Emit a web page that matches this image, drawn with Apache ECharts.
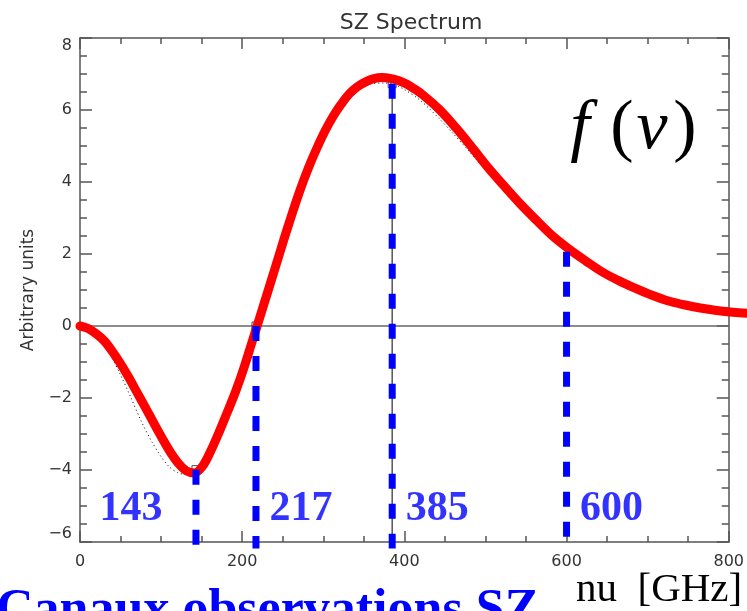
<!DOCTYPE html>
<html>
<head>
<meta charset="utf-8">
<script src="https://cdn.jsdelivr.net/npm/echarts@6/dist/echarts.min.js"></script>
<style>html,body{margin:0;padding:0;background:#fff;}#c{width:747px;height:611px;}</style>
</head>
<body>
<div id="c"></div>
<script>
// Red (hand-drawn) SZ curve
const redFreq = [0,10,20,30,40,50,60,70,80,90,100,110,120,130,140,150,160,170,180,190,200,210,220,230,240,250,260,270,280,290,300,310,320,330,340,350,360,370,380,390,400,410,420,440,460,480,500,520,540,560,580,600,620,640,660,680,700,720,740,760,780,800,820];
const redVals = [0,-0.07,-0.22,-0.42,-0.72,-1.06,-1.44,-1.85,-2.26,-2.68,-3.09,-3.48,-3.80,-4.02,-4.08,-3.90,-3.48,-2.97,-2.42,-1.86,-1.22,-0.50,0.22,0.95,1.68,2.42,3.13,3.80,4.40,4.93,5.41,5.82,6.16,6.45,6.65,6.78,6.87,6.90,6.88,6.82,6.72,6.58,6.42,6.02,5.52,4.97,4.40,3.88,3.38,2.92,2.48,2.12,1.80,1.50,1.26,1.05,0.86,0.70,0.59,0.50,0.43,0.38,0.35];
// Thin dotted curve
const dotFreq = [0,10,20,35,50,62,75,88,100,110,120,130,143,150,160,170,182,190,200,210,217,230,242,255,268,280,290,303,315,330,345,360,375,385,400,420,440,460,480,502,520,540,560,576,600,640,680,720,760,800];
const dotVals = [0,-0.06,-0.24,-0.71,-1.36,-1.95,-2.62,-3.19,-3.63,-3.91,-4.07,-4.12,-3.99,-3.83,-3.51,-3.08,-2.45,-1.94,-1.27,-0.55,-0.03,0.94,1.82,2.76,3.65,4.34,4.88,5.47,5.92,6.35,6.62,6.73,6.75,6.73,6.57,6.26,5.83,5.35,4.85,4.28,3.82,3.34,2.89,2.56,2.11,1.49,1.03,0.70,0.46,0.30];
// Channels
const channels = [143, 217, 385, 600];
const channelTops = [-3.99, 0, 6.73, 2.06];
const channelLabels = ['143', '217', '385', '600'];
const squareFreq = [143, 217, 385];
const squareVals = [-3.99, 0, 6.73];
const labelLevel = -5.1;
const lineBottom = -6.18;
// Axes
const xTicks = [0, 200, 400, 600, 800];
const yTicks = [-6, -4, -2, 0, 2, 4, 6, 8];

const axisColor = '#555';
const chart = echarts.init(document.getElementById('c'), null, {renderer: 'canvas'});

function zip(a, b) { return a.map((v, i) => [v, b[i]]); }

// grid geometry
const G = {left: 80, right: 14, top: 38, bottom: 69};
const W = 747;
const plotW = W - G.left - G.right;
// hidden wider grid so the red curve may run past the right frame (same scale)
const extMax = xTicks[xTicks.length-1] * (W - G.left) / plotW;

const series = [];
series.push({ type: 'line', data: [[xTicks[0], 0], [xTicks[xTicks.length-1], 0]], showSymbol: false, silent: true,
  lineStyle: {color: '#666', width: 1.5}, z: 1 });
series.push({ type: 'line', data: [[385, 6.73], [385, -6]], showSymbol: false, silent: true,
  lineStyle: {color: '#555', width: 1.5}, z: 2 });
series.push({ type: 'line', data: zip(dotFreq, dotVals), smooth: 0.3, showSymbol: false, silent: true,
  lineStyle: {color: '#000', width: 1, type: [1, 3]}, z: 3 });
series.push({ type: 'scatter', data: zip(squareFreq, squareVals), symbol: 'rect', symbolSize: 8, silent: true,
  itemStyle: {color: 'rgba(0,0,0,0)', borderColor: '#222', borderWidth: 1}, z: 4 });
series.push({ type: 'line', xAxisIndex: 2, yAxisIndex: 2, data: zip(redFreq, redVals), smooth: 0.35, showSymbol: false, clip: false, silent: true,
  lineStyle: {color: '#ff0000', width: 9, cap: 'round', join: 'round'}, z: 5 });
channels.forEach((c, i) => {
  series.push({ type: 'line', data: [[c, channelTops[i]], [c, lineBottom]], showSymbol: false, clip: false, silent: true,
    lineStyle: {color: '#0000ff', width: 7, type: [15, 15], cap: 'butt'}, z: 6 });
});
series.push({ type: 'scatter', symbolSize: 0, silent: true, z: 7,
  data: channels.map((c, i) => ({ value: [c, labelLevel],
    label: { show: true, formatter: channelLabels[i], position: 'inside', offset: [i === 0 ? -65 : 45, 0],
      fontFamily: 'Liberation Serif', fontWeight: 'bold', fontSize: 42, color: '#0000ff' } })) });

const yFmt = v => v < 0 ? '\u2212' + Math.abs(v) : String(v);

const tickCommon = {
  axisLine: {onZero: false, lineStyle: {color: axisColor, width: 1.5}},
  splitLine: {show: false}
};

const option = {
  animation: false,
  backgroundColor: '#fff',
  title: { text: 'SZ Spectrum', left: 406, top: 7, textAlign: 'center',
    textStyle: {fontFamily: 'DejaVu Sans', fontWeight: 'normal', fontSize: 22, color: '#333'} },
  grid: [
    { left: G.left, right: G.right, top: G.top, bottom: G.bottom, containLabel: false },
    { left: G.left, right: 0, top: G.top, bottom: G.bottom, containLabel: false }
  ],
  xAxis: [
    Object.assign({ type: 'value', gridIndex: 0, position: 'bottom', min: xTicks[0], max: xTicks[xTicks.length-1], interval: 200,
      axisTick: {inside: true, length: 11, lineStyle: {color: axisColor, width: 1.5}},
      minorTick: {show: true, splitNumber: 4, length: 6, lineStyle: {color: axisColor, width: 1.5}},
      axisLabel: {fontFamily: 'DejaVu Sans', fontSize: 16, color: '#333', margin: 12} }, tickCommon),
    Object.assign({ type: 'value', gridIndex: 0, position: 'top', min: xTicks[0], max: xTicks[xTicks.length-1], interval: 200,
      axisTick: {inside: true, length: 11, lineStyle: {color: axisColor, width: 1.5}},
      minorTick: {show: true, splitNumber: 4, length: 6, lineStyle: {color: axisColor, width: 1.5}},
      axisLabel: {show: false} }, tickCommon),
    { type: 'value', gridIndex: 1, show: false, min: xTicks[0], max: extMax }
  ],
  yAxis: [
    Object.assign({ type: 'value', gridIndex: 0, position: 'left', min: yTicks[0], max: yTicks[yTicks.length-1], interval: 2,
      name: 'Arbitrary units', nameLocation: 'middle', nameGap: 43, nameRotate: 90,
      nameTextStyle: {fontFamily: 'DejaVu Sans', fontSize: 17, color: '#333'},
      axisTick: {inside: true, length: 12, lineStyle: {color: axisColor, width: 1.5}},
      minorTick: {show: true, splitNumber: 4, length: 7, lineStyle: {color: axisColor, width: 1.5}},
      axisLabel: {fontFamily: 'DejaVu Sans', fontSize: 16, color: '#333', margin: 8, formatter: yFmt,
        verticalAlignMaxLabel: 'top', verticalAlignMinLabel: 'bottom'} }, tickCommon),
    Object.assign({ type: 'value', gridIndex: 0, position: 'right', min: yTicks[0], max: yTicks[yTicks.length-1], interval: 2,
      axisTick: {inside: true, length: 12, lineStyle: {color: axisColor, width: 1.5}},
      minorTick: {show: true, splitNumber: 4, length: 7, lineStyle: {color: axisColor, width: 1.5}},
      axisLabel: {show: false} }, tickCommon),
    { type: 'value', gridIndex: 1, show: false, min: yTicks[0], max: yTicks[yTicks.length-1] }
  ],
  graphic: [
    { type: 'text', x: 580, y: 130, z: 10, style: { text: 'f', font: 'italic 70px "Liberation Serif"', fill: '#000', align: 'center', verticalAlign: 'middle' } },
    { type: 'text', x: 622, y: 130, z: 10, style: { text: '(', font: '70px "Liberation Serif"', fill: '#000', align: 'center', verticalAlign: 'middle' } },
    { type: 'text', x: 652, y: 130, z: 10, style: { text: '\u03BD', font: 'italic 70px "Liberation Serif"', fill: '#000', align: 'center', verticalAlign: 'middle' } },
    { type: 'text', x: 685, y: 130, z: 10, style: { text: ')', font: '70px "Liberation Serif"', fill: '#000', align: 'center', verticalAlign: 'middle' } },
    { type: 'text', x: 576, y: 590, z: 10, style: { text: 'nu  [GHz]', font: '41px "Liberation Serif"', fill: '#000', align: 'left', verticalAlign: 'middle' } },
    { type: 'text', x: -4, y: 612, z: 10, style: { text: 'Canaux observations SZ', font: 'bold 52px "Liberation Serif"', fill: '#0000ff', align: 'left', verticalAlign: 'middle' } }
  ],
  series: series.map(s => Object.assign({xAxisIndex: 0, yAxisIndex: 0}, s))
};
chart.setOption(option);
</script>
</body>
</html>
